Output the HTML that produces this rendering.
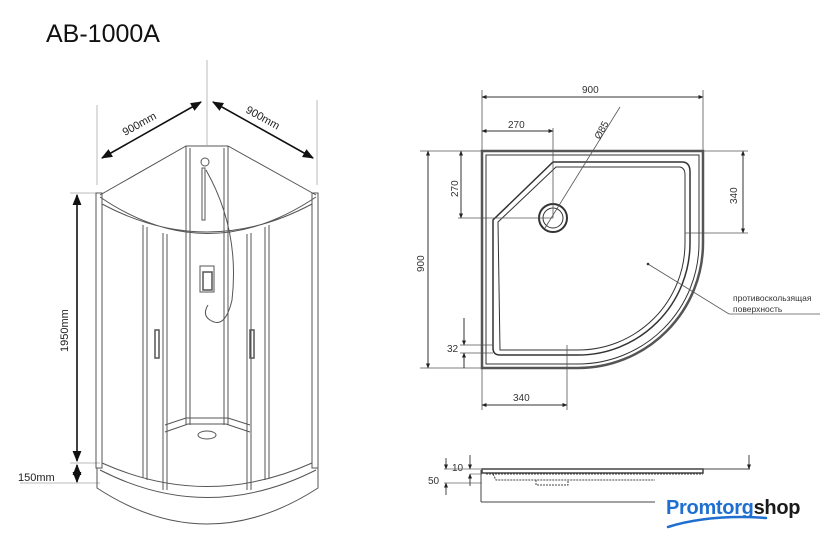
<!DOCTYPE html>
<html><head><meta charset="utf-8"><style>
html,body{margin:0;padding:0;background:#fff;}
svg{display:block;font-family:"Liberation Sans",sans-serif;}
</style></head><body>
<svg width="840" height="545" viewBox="0 0 840 545" xmlns="http://www.w3.org/2000/svg">
<defs>
<marker id="a" viewBox="0 0 10 10" refX="9" refY="5" markerWidth="7" markerHeight="7" orient="auto-start-reverse"><path d="M0,1 L10,5 L0,9z" fill="#111"/></marker>
<marker id="s" viewBox="0 0 10 10" refX="9" refY="5" markerWidth="5" markerHeight="5" orient="auto-start-reverse"><path d="M0,1 L10,5 L0,9z" fill="#222"/></marker>
</defs>
<text x="46" y="42" font-size="25" fill="#111">AB-1000A</text>

<!-- shower cabin -->
<g fill="none" stroke="#555" stroke-width="1">
<line x1="207" y1="60" x2="207" y2="145" stroke="#bbb"/>
<line x1="97" y1="105" x2="97" y2="185" stroke="#bbb"/>
<line x1="317" y1="100" x2="317" y2="185" stroke="#bbb"/>
<line x1="70" y1="193" x2="100" y2="193" stroke="#bbb"/>
<line x1="70" y1="463" x2="100" y2="463" stroke="#bbb"/>
<line x1="20" y1="483" x2="100" y2="483" stroke="#bbb"/>
<line x1="102" y1="158" x2="201" y2="102" stroke="#111" stroke-width="1.6" marker-start="url(#a)" marker-end="url(#a)"/>
<line x1="213" y1="102" x2="313" y2="158" stroke="#111" stroke-width="1.6" marker-start="url(#a)" marker-end="url(#a)"/>
<line x1="77" y1="195" x2="77" y2="461" stroke="#111" stroke-width="1.6" marker-start="url(#a)" marker-end="url(#a)"/>
<line x1="77" y1="465" x2="77" y2="482" stroke="#111" stroke-width="1.6" marker-start="url(#a)" marker-end="url(#a)"/>
<!-- back -->
<path d="M100,195 L186,146 L228,146 L316,195"/>
<line x1="186" y1="146" x2="186" y2="425"/><line x1="190" y1="148" x2="190" y2="425"/>
<line x1="228" y1="146" x2="228" y2="425"/><line x1="224" y1="148" x2="224" y2="425"/>
<path d="M165,425 L186,418 L228,418 L250,425 M165,432 L188,424 L226,424 L250,432"/>
<ellipse cx="207" cy="435" rx="9" ry="4"/>
<!-- frame -->
<rect x="96" y="193" width="6" height="275"/><rect x="312" y="193" width="6" height="275"/>
<path d="M100,197 Q207,270 316,197 M102,204 Q207,260 312,204"/>
<path d="M100,470 Q207,525 316,470 M102,463 Q207,510 312,463"/>
<path d="M97,468 L97,488 Q207,560 318,488 L318,468"/>
<line x1="143" y1="225" x2="143" y2="478"/><line x1="147" y1="227" x2="147" y2="480"/>
<line x1="163" y1="233" x2="163" y2="490"/><line x1="167" y1="234" x2="167" y2="490"/>
<line x1="247" y1="234" x2="247" y2="490"/><line x1="251" y1="233" x2="251" y2="490"/>
<line x1="265" y1="227" x2="265" y2="480"/><line x1="269" y1="225" x2="269" y2="478"/>
<rect x="155" y="330" width="4" height="28" stroke-width="1.5"/>
<rect x="250" y="330" width="4" height="28" stroke-width="1.5"/>
<!-- shower -->
<circle cx="205" cy="162" r="4"/>
<rect x="202" y="168" width="3" height="52"/>
<path d="M206,170 Q240,230 232,300 Q225,330 210,320 Q202,315 208,305"/>
<rect x="200" y="266" width="14" height="26"/><rect x="203" y="272" width="9" height="18" stroke-width="1.5"/>
</g>
<text font-size="11" fill="#222" transform="translate(125,136) rotate(-29)">900mm</text>
<text font-size="11" fill="#222" transform="translate(245,112) rotate(29)">900mm</text>
<text font-size="11" fill="#222" transform="translate(68,352) rotate(-90)">1950mm</text>
<text x="18" y="481" font-size="11" fill="#222">150mm</text>

<!-- plan -->
<g fill="none" stroke="#333" stroke-width="1">
<path d="M482,151 L703,151 L703,243 A125,125 0 0 1 578,368 L482,368 Z" stroke-width="2.5" stroke="#555"/>
<path d="M486,155 L699,155 L699,243 A121,121 0 0 1 578,364 L486,364 Z"/>
<path d="M553,162 L682,162 Q690,162 690,172 L690,243 A112,112 0 0 1 578,355 L500,355 Q493,355 493,348 L493,220 Z" stroke-width="1.5"/>
<path d="M556,167 L680,167 Q685,168 685,175 L685,243 A107,107 0 0 1 578,350 L500,350 L498,222 Z"/>
<circle cx="553" cy="218" r="14" stroke-width="2"/><circle cx="553" cy="218" r="10"/>
<g stroke="#555" stroke-width="0.8">
<line x1="482" y1="90" x2="482" y2="151"/><line x1="703" y1="90" x2="703" y2="151"/>
<line x1="553" y1="128" x2="553" y2="218"/>
<line x1="420" y1="151" x2="482" y2="151"/><line x1="420" y1="368" x2="482" y2="368"/>
<line x1="458" y1="218" x2="553" y2="218"/>
<line x1="703" y1="151" x2="748" y2="151"/><line x1="685" y1="233" x2="748" y2="233"/>
<line x1="460" y1="345" x2="493" y2="345"/><line x1="460" y1="353" x2="493" y2="353"/>
<line x1="482" y1="368" x2="482" y2="410"/><line x1="567" y1="345" x2="567" y2="410"/>
<line x1="545" y1="228" x2="620" y2="107"/>
<path d="M648,264 L729,314 L820,314"/>
</g>
<line x1="482" y1="97" x2="703" y2="97" marker-start="url(#s)" marker-end="url(#s)"/>
<line x1="482" y1="131" x2="553" y2="131" marker-start="url(#s)" marker-end="url(#s)"/>
<line x1="428" y1="151" x2="428" y2="368" marker-start="url(#s)" marker-end="url(#s)"/>
<line x1="461" y1="151" x2="461" y2="218" marker-start="url(#s)" marker-end="url(#s)"/>
<line x1="743" y1="151" x2="743" y2="233" marker-start="url(#s)" marker-end="url(#s)"/>
<line x1="464" y1="318" x2="464" y2="345" marker-end="url(#s)"/>
<line x1="464" y1="368" x2="464" y2="353" marker-end="url(#s)"/>
<line x1="482" y1="405" x2="567" y2="405" marker-start="url(#s)" marker-end="url(#s)"/>
</g>
<circle cx="648" cy="264" r="1.3" fill="#333"/>
<g font-size="10" fill="#333">
<text x="582" y="93">900</text>
<text x="508" y="128">270</text>
<text transform="translate(600,140) rotate(-62)">Ø85</text>
<text transform="translate(424,272) rotate(-90)">900</text>
<text transform="translate(458,197) rotate(-90)">270</text>
<text transform="translate(737,204) rotate(-90)">340</text>
<text x="447" y="352">32</text>
<text x="513" y="401">340</text>
<text x="733" y="301" font-size="8.5">противоскользящая</text>
<text x="733" y="312" font-size="8.5">поверхность</text>
<text x="452" y="471">10</text>
<text x="428" y="484">50</text>
</g>
<!-- side view -->
<g fill="none" stroke="#444" stroke-width="1">
<rect x="482" y="469" width="221" height="4" stroke-width="1.5"/>
<path d="M486,474 L703,474 M493,474 L496,480 L500,480 L655,480 M536,480 L536,485 L568,485 L568,480" stroke-dasharray="2,1"/>
<line x1="481" y1="470" x2="481" y2="502"/><line x1="481" y1="502" x2="655" y2="502"/>
<line x1="703" y1="469" x2="750" y2="469"/>
<line x1="444" y1="469" x2="482" y2="469" stroke="#666" stroke-width="0.7"/>
<line x1="444" y1="483" x2="482" y2="483" stroke="#666" stroke-width="0.7"/>
<line x1="470" y1="474" x2="482" y2="474" stroke="#666" stroke-width="0.7"/>
<line x1="446" y1="458" x2="446" y2="469" marker-end="url(#s)"/>
<line x1="446" y1="495" x2="446" y2="483" marker-end="url(#s)"/>
<line x1="470" y1="455" x2="470" y2="469" marker-end="url(#s)"/>
<line x1="470" y1="486" x2="470" y2="474" marker-end="url(#s)"/>
<line x1="749" y1="455" x2="749" y2="469" marker-end="url(#s)"/>
</g>
<!-- logo -->
<text x="666" y="514" font-size="20" font-weight="bold" fill="#1f6fd1" style="letter-spacing:-0.3px">Promtorg<tspan fill="#1a1a1a">shop</tspan></text>
<path d="M668,527 Q710,514 766,518" fill="none" stroke="#1f6fd1" stroke-width="2.5" stroke-linecap="round"/>
</svg>
</body></html>
